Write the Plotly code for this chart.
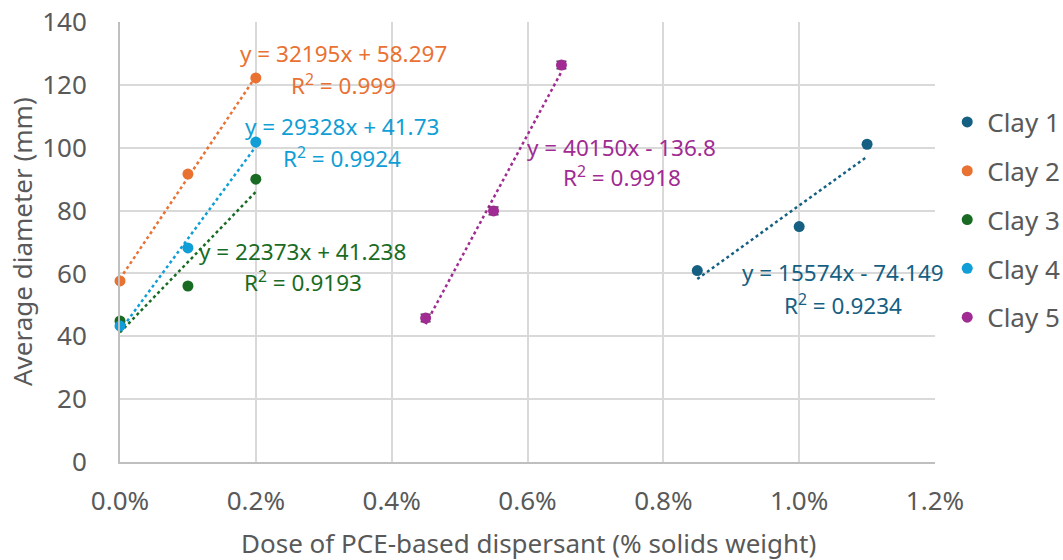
import plotly.graph_objects as go

# Dose of dispersant as a fraction of solids weight
clay1_x = [0.0085, 0.010, 0.011]
clay1_y = [60.9, 74.9, 101.1]
clay2_x = [0.000, 0.001, 0.002]
clay2_y = [57.6, 91.6, 122.2]
clay3_x = [0.000, 0.001, 0.002]
clay3_y = [44.9, 56.0, 90.0]
clay4_x = [0.000, 0.001, 0.002]
clay4_y = [43.3, 68.1, 101.8]
clay5_x = [0.0045, 0.0055, 0.0065]
clay5_y = [45.8, 79.9, 126.3]
clay5_err = [1.2, 1.2, 1.2]

# Linear fit coefficients (slope, intercept, R^2)
fits = {
    "Clay 1": (15574, -74.149, "0.9234"),
    "Clay 2": (32195, 58.297, "0.999"),
    "Clay 3": (22373, 41.238, "0.9193"),
    "Clay 4": (29328, 41.73, "0.9924"),
    "Clay 5": (40150, -136.8, "0.9918"),
}

names = ["Clay 1", "Clay 2", "Clay 3", "Clay 4", "Clay 5"]
xs = [clay1_x, clay2_x, clay3_x, clay4_x, clay5_x]
ys = [clay1_y, clay2_y, clay3_y, clay4_y, clay5_y]
colors = ["#156082", "#E97132", "#196B24", "#0F9ED5", "#A02B93"]

# Equation label centres (x, y of equation line; y of R^2 line) in data units
label_pos = {
    "Clay 1": (0.01064, 60.2, 50.0),
    "Clay 2": (0.00329, 130.1, 120.2),
    "Clay 3": (0.00269, 66.9, 57.3),
    "Clay 4": (0.00327, 106.9, 97.0),
    "Clay 5": (0.00739, 100.2, 90.7),
}

FONT = "Noto Sans"
TXT = "#595959"
SIZE = 26

fig = go.Figure()

# Dotted trend lines spanning each series' dose range
for name, x, c in zip(names, xs, colors):
    m, b, _ = fits[name]
    tx = [x[0], x[-1]]
    ty = [m * v + b for v in tx]
    fig.add_trace(go.Scatter(
        x=tx, y=ty, mode="lines", showlegend=False, hoverinfo="skip",
        line=dict(color=c, width=2.5, dash="dot"), cliponaxis=False,
    ))

for name, x, y, c in zip(names, xs, ys, colors):
    kw = {}
    if name == "Clay 5":
        kw["error_y"] = dict(type="data", array=clay5_err, color="#404040",
                             thickness=1.5, width=5)
    fig.add_trace(go.Scatter(
        x=x, y=y, mode="markers", name=name, legendgroup=name,
        marker=dict(color=c, size=11), cliponaxis=False, **kw,
    ))

annotations = []
for name, c in zip(names, colors):
    m, b, r2 = fits[name]
    ax, ey, ry = label_pos[name]
    sign = "+" if b >= 0 else "-"
    eq = f"y = {m}x {sign} {abs(b):g}"
    annotations.append(dict(x=ax, y=ey, xref="x", yref="y", text=eq,
                            showarrow=False, font=dict(family=FONT, size=22.5, color=c)))
    annotations.append(dict(x=ax, y=ry, xref="x", yref="y",
                            text=f"R<sup>2</sup> = {r2}",
                            showarrow=False, font=dict(family=FONT, size=22.5, color=c)))

# Axis titles
annotations.append(dict(x=(528 - 120) / 815, y=-(543 - 462) / 440, xref="paper", yref="paper",
                        xanchor="center", yanchor="middle",
                        text="Dose of PCE-based dispersant (% solids weight)", showarrow=False,
                        font=dict(family=FONT, size=SIZE, color=TXT)))
annotations.append(dict(x=-(120 - 22) / 815, y=(462 - 242) / 440, xref="paper", yref="paper",
                        xanchor="center", yanchor="middle",
                        text="Average diameter (mm)", textangle=-90, showarrow=False,
                        font=dict(family=FONT, size=SIZE, color=TXT)))

fig.update_layout(
    width=1063, height=560,
    margin=dict(l=120, r=128, t=22, b=98, autoexpand=False),
    paper_bgcolor="white", plot_bgcolor="white",
    font=dict(family=FONT, size=SIZE, color=TXT),
    annotations=annotations,
    legend=dict(x=1.015, y=0.826, xanchor="left", yanchor="top",
                traceorder="grouped", tracegroupgap=12,
                font=dict(family=FONT, size=SIZE, color=TXT)),
    xaxis=dict(range=[0, 0.012], dtick=0.002, tickformat=".1%",
               showgrid=True, gridcolor="#D9D9D9", gridwidth=1.5,
               showline=True, linecolor="#BFBFBF", linewidth=2,
               zeroline=False, ticks="", ticklabelstandoff=15,
               tickfont=dict(family=FONT, size=SIZE, color=TXT)),
    yaxis=dict(range=[0, 140], dtick=20,
               showgrid=True, gridcolor="#D9D9D9", gridwidth=1.5,
               showline=True, linecolor="#BFBFBF", linewidth=2,
               zeroline=False, ticks="", ticklabelstandoff=26,
               tickfont=dict(family=FONT, size=SIZE, color=TXT)),
)

fig.write_html("out.html")
